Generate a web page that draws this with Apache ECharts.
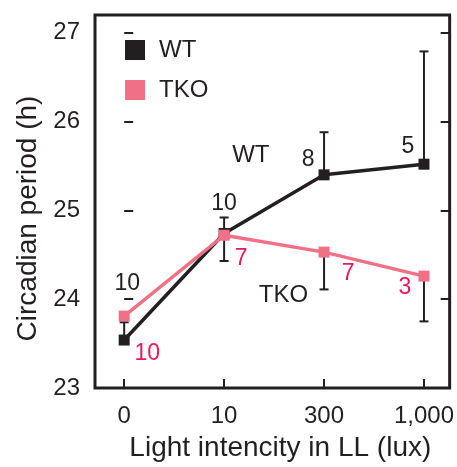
<!DOCTYPE html>
<html>
<head>
<meta charset="utf-8">
<script src="https://cdn.jsdelivr.net/npm/echarts@6/dist/echarts.min.js"></script>
<style>
  html, body { margin: 0; padding: 0; background: #fff; }
  #chart { width: 457px; height: 467px; }
</style>
</head>
<body>
<div id="chart"></div>
<script>
// Light intensity levels (x categories)
const categories = ['0', '10', '300', '1,000'];
const yTicks = [23, 24, 25, 26, 27];

// Mean circadian period (h) and error-bar ends
const wtPeriod  = [23.54, 24.74, 25.40, 25.52];
const wtUpper   = [23.74, 24.92, 25.88, 26.79];
const tkoPeriod = [23.81, 24.72, 24.53, 24.26];
const tkoLower  = [23.81, 24.43, 24.11, 23.75];

// Number of animals per group
const wtN  = [10, 10, 8, 5];
const tkoN = [10, 7, 7, 3];

// Label placement (pixel offsets from each marker)
const wtLabelOffset  = [[3, -56], [0, -30], [-16, -15], [-16, -18]];
const tkoLabelOffset = [[23, 38], [17, 23], [24, 22], [-19, 12]];

const FONT = 'Liberation Sans, Arial, Helvetica, sans-serif';
const INK = '#231f20';
const PINK = '#f07086';
const RED = '#e8185a';

const idx = categories.map((_, i) => i);

function pointData(vals, ns, offs, color) {
  return vals.map((v, i) => ({
    value: [i, v],
    label: {
      show: true,
      formatter: String(ns[i]),
      position: 'inside',
      offset: offs[i],
      color: color,
      fontSize: 23,
      fontFamily: FONT
    }
  }));
}

function errorBar(name, mean, ends, color) {
  return {
    type: 'custom',
    name: name + ' error',
    z: 1,
    silent: true,
    data: mean.map((m, i) => [i, m, ends[i]]),
    renderItem: function (params, api) {
      const p0 = api.coord([api.value(0), api.value(1)]);
      const p1 = api.coord([api.value(0), api.value(2)]);
      const hw = 4.5;
      const style = { stroke: color, lineWidth: 2 };
      if (Math.abs(p1[1] - p0[1]) < 0.5) return null;
      return {
        type: 'group',
        children: [
          { type: 'line', shape: { x1: p0[0], y1: p0[1], x2: p1[0], y2: p1[1] }, style: style },
          { type: 'line', shape: { x1: p1[0] - hw, y1: p1[1], x2: p1[0] + hw, y2: p1[1] }, style: style }
        ]
      };
    }
  };
}

const chart = echarts.init(document.getElementById('chart'), null, { renderer: 'canvas' });

const yAxisBase = {
  type: 'value',
  min: 23,
  max: 27.2,
  splitLine: { show: false },
  axisLine: { show: false },
  axisTick: { show: true, inside: true, length: 9, customValues: yTicks, lineStyle: { color: INK, width: 2 } }
};

chart.setOption({
  animation: false,
  backgroundColor: '#ffffff',
  textStyle: { fontFamily: FONT, color: INK },
  grid: {
    left: 95, top: 15, width: 358.5, height: 374.5,
    show: true, borderWidth: 3, borderColor: INK, backgroundColor: 'transparent'
  },
  legend: {
    orient: 'vertical',
    left: 120, top: 33,
    itemWidth: 20, itemHeight: 20, itemGap: 16,
    icon: 'rect',
    data: ['WT', 'TKO'],
    textStyle: { fontSize: 24, color: INK, fontFamily: FONT, padding: [0, 0, 0, 9] }
  },
  xAxis: {
    type: 'value',
    min: -0.292,
    max: 3.257,
    name: 'Light intencity in LL (lux)',
    nameLocation: 'middle',
    nameGap: 46,
    nameTextStyle: { fontSize: 28, color: INK, fontFamily: FONT, padding: [0, 0, 0, 16] },
    splitLine: { show: false },
    axisLine: { show: false },
    axisTick: { show: true, inside: true, length: 9, customValues: idx, lineStyle: { color: INK, width: 2 } },
    axisLabel: {
      customValues: idx,
      formatter: v => categories[Math.round(v)],
      fontSize: 24, color: INK, fontFamily: FONT, margin: 16
    }
  },
  yAxis: [
    Object.assign({}, yAxisBase, {
      position: 'left',
      name: 'Circadian period (h)',
      nameLocation: 'middle',
      nameGap: 52,
      nameTextStyle: { fontSize: 28, color: INK, fontFamily: FONT, padding: [0, 34, 0, 0] },
      axisLabel: { customValues: yTicks, fontSize: 24, color: INK, fontFamily: FONT, margin: 15 }
    }),
    Object.assign({}, yAxisBase, {
      position: 'right',
      axisLabel: { show: false }
    })
  ],
  series: [
    errorBar('WT', wtPeriod, wtUpper, INK),
    errorBar('TKO', tkoPeriod, tkoLower, INK),
    {
      type: 'line',
      name: 'WT',
      z: 3,
      data: pointData(wtPeriod, wtN, wtLabelOffset, INK),
      symbol: 'rect',
      symbolSize: 11,
      color: INK,
      itemStyle: { color: INK },
      lineStyle: { color: INK, width: 3.5 },
      markPoint: {
        symbol: 'rect', symbolSize: 1,
        itemStyle: { color: 'transparent' },
        label: { show: true, position: 'inside', formatter: 'WT', fontSize: 24, color: INK, fontFamily: FONT },
        data: [{ coord: [1.267, 25.615] }]
      }
    },
    {
      type: 'line',
      name: 'TKO',
      z: 4,
      data: pointData(tkoPeriod, tkoN, tkoLabelOffset, RED),
      symbol: 'rect',
      symbolSize: 11,
      color: PINK,
      itemStyle: { color: PINK },
      lineStyle: { color: PINK, width: 3.5 },
      markPoint: {
        symbol: 'rect', symbolSize: 1,
        itemStyle: { color: 'transparent' },
        label: { show: true, position: 'inside', formatter: 'TKO', fontSize: 24, color: INK, fontFamily: FONT },
        data: [{ coord: [1.594, 24.044] }]
      }
    }
  ]
});
</script>
</body>
</html>
